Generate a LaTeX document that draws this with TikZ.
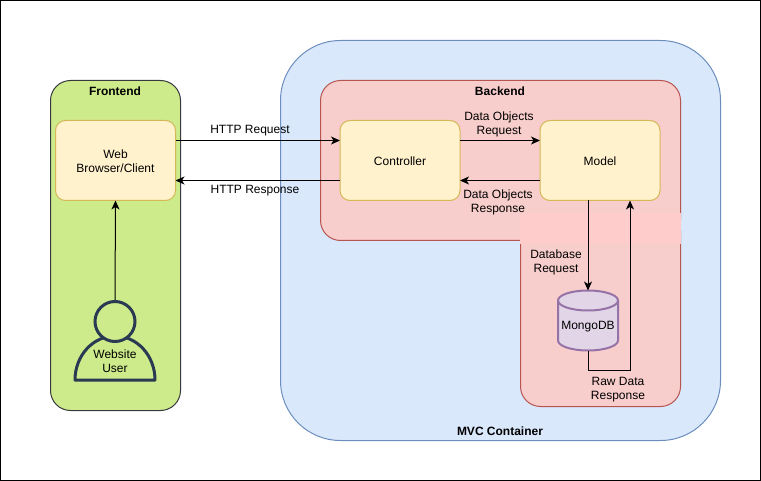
\documentclass[tikz,border=0pt]{standalone}
\usepackage{fontspec}
\setmainfont{Liberation Sans}
\usetikzlibrary{positioning}
\usetikzlibrary{arrows.meta}
\definecolor{boxfill}{HTML}{FFF2CC}
\definecolor{boxline}{HTML}{D6B656}
\definecolor{frontfill}{HTML}{CDEB8B}
\definecolor{frontline}{HTML}{36393D}
\definecolor{mvcfill}{HTML}{DAE8FC}
\definecolor{mvcline}{HTML}{6C8EBF}
\definecolor{backfill}{HTML}{F8CECC}
\definecolor{backline}{HTML}{B85450}
\definecolor{dbfill}{HTML}{E1D5E7}
\definecolor{dbline}{HTML}{9673A6}
\definecolor{userline}{HTML}{2A3A52}
\newcommand{\boxtext}[1]{\raisebox{-2pt}[\height][\depth]{\begin{tabular}{@{}c@{}}#1\end{tabular}}}
\tikzset{box node/.style={rectangle,rounded corners=10pt,fill=boxfill,draw=boxline,minimum width=120pt,minimum height=80pt,inner sep=0pt,outer sep=0pt,align=center},}
\tikzset{label node/.style={inner sep=0pt,align=center},}
\tikzset{title node/.style={inner sep=0pt,font=\fontsize{12}{14}\selectfont\bfseries},}
\tikzset{link/.style={-{Stealth[length=9pt,width=8pt,inset=2.5pt]},line width=1pt},}
\tikzset{can/.style={fill=dbfill,draw=dbline,line width=2pt,line join=round},}

\begin{document}
\begin{tikzpicture}[x=1pt,y=-1pt,line width=1pt,font=\fontsize{12}{14}\selectfont]
     \useasboundingbox (0,0) rectangle (761,481);
     \draw[black] (0.5,0.5) rectangle (760.5,480.5);

     % containers
     \draw[fill=frontfill,draw=frontline,rounded corners=20pt] (50.5,80.5) rectangle (180.5,410.5);
     \draw[fill=mvcfill,draw=mvcline,rounded corners=60pt] (280.5,40.5) rectangle (720.5,440.5);
     \draw[fill=backfill,draw=backline,rounded corners=20pt] (320.5,80.5) rectangle (680.5,240.5);
     \draw[fill=backfill,draw=backline,rounded corners=20pt] (520.5,230) -- (520.5,406.5) -- (680.5,406.5) -- (680.5,230);
     \fill[fill=red!20] (520,213) rectangle (681,244);

     \node[title node] (front title) at (115,91) {Frontend};
     \node[title node] (back title) at (500,91) {Backend};
     \node[title node] (mvc title) at (500,431) {MVC Container};

     % boxes
     \node[box node] (web) at (115.5,160.5) {\boxtext{Web\\Browser/Client}};
     \node[box node] (controller) [right = 164.5pt of web] {\boxtext{Controller}};
     \node[box node] (model) [right = 80pt of controller] {\boxtext{Model}};

     % database
     \node[minimum size=60pt,inner sep=0pt,outer sep=0pt] (mongo) [below = 90pt of model, xshift=-12pt] {};
     \draw[can] ([yshift=-10pt]mongo.north west) arc[start angle=180,end angle=360,x radius=30,y radius=10]
     -- ([yshift=10pt]mongo.south east) arc[start angle=0,end angle=180,x radius=30,y radius=10] -- cycle;
     \draw[can,fill=none] ([yshift=-10pt]mongo.north west) arc[start angle=180,end angle=0,x radius=30,y radius=10];
     \node[label node] (mongo label) at ([yshift=-6.5pt]mongo.center) {MongoDB};

     % user
     \draw[fill=frontfill,draw=userline,line width=3pt,line join=round] (75,380) arc[start angle=180,end angle=360,x radius=40,y radius=44] -- cycle;
     \node[circle,fill=frontfill,draw=userline,line width=3pt,minimum size=40pt,inner sep=0pt,outer sep=1.5pt] (user) at (115,321.5) {};
     \node[label node] (user label) at (115,361) {Website\\User};

     % links
     \coordinate (model return) at ([xshift=30pt]model.south);
     \path[link]
     ([yshift=20pt]web.east) edge ([yshift=20pt]controller.west)
     ([yshift=-20pt]controller.west) edge ([yshift=-20pt]web.east)
     ([yshift=20pt]controller.east) edge ([yshift=20pt]model.west)
     ([yshift=-20pt]model.west) edge ([yshift=-20pt]controller.east)
     (user.north) edge (web.south)
     (model.south -| mongo.north) edge (mongo.north);
     \draw[link] (mongo.south) -- ++(0,20) -| (model return);

     % link labels
     \node[label node] (request) at (250,131) {HTTP Request};
     \node[label node] (response) at (255,191) {HTTP Response};
     \node[label node] (data request) at (499,124) {Data Objects\\Request};
     \node[label node] (data response) at (498,202) {Data Objects\\Response};
     \node[label node] (db request) at (556,262) {Database\\Request};
     \node[label node] (db response) at (618,390) {Raw Data\\Response};
  \end{tikzpicture}
\end{document}
